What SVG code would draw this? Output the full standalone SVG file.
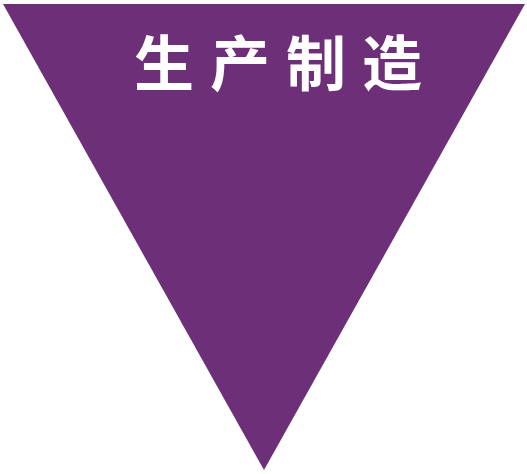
<svg xmlns="http://www.w3.org/2000/svg" width="527" height="474" viewBox="0 0 527 474">
<style>
.tri{fill:#6e2f79;}
.lbl{fill:#ffffff;font-family:"Noto Sans CJK SC","Noto Sans",sans-serif;font-weight:bold;font-size:60px;letter-spacing:16px;}
</style>
<rect width="527" height="474" fill="#ffffff"/>
<g id="triangle">
<polygon class="tri" points="3,4 525,4 264,470"/>
<text class="lbl" x="134" y="86">生产制造</text>
</g>
</svg>
